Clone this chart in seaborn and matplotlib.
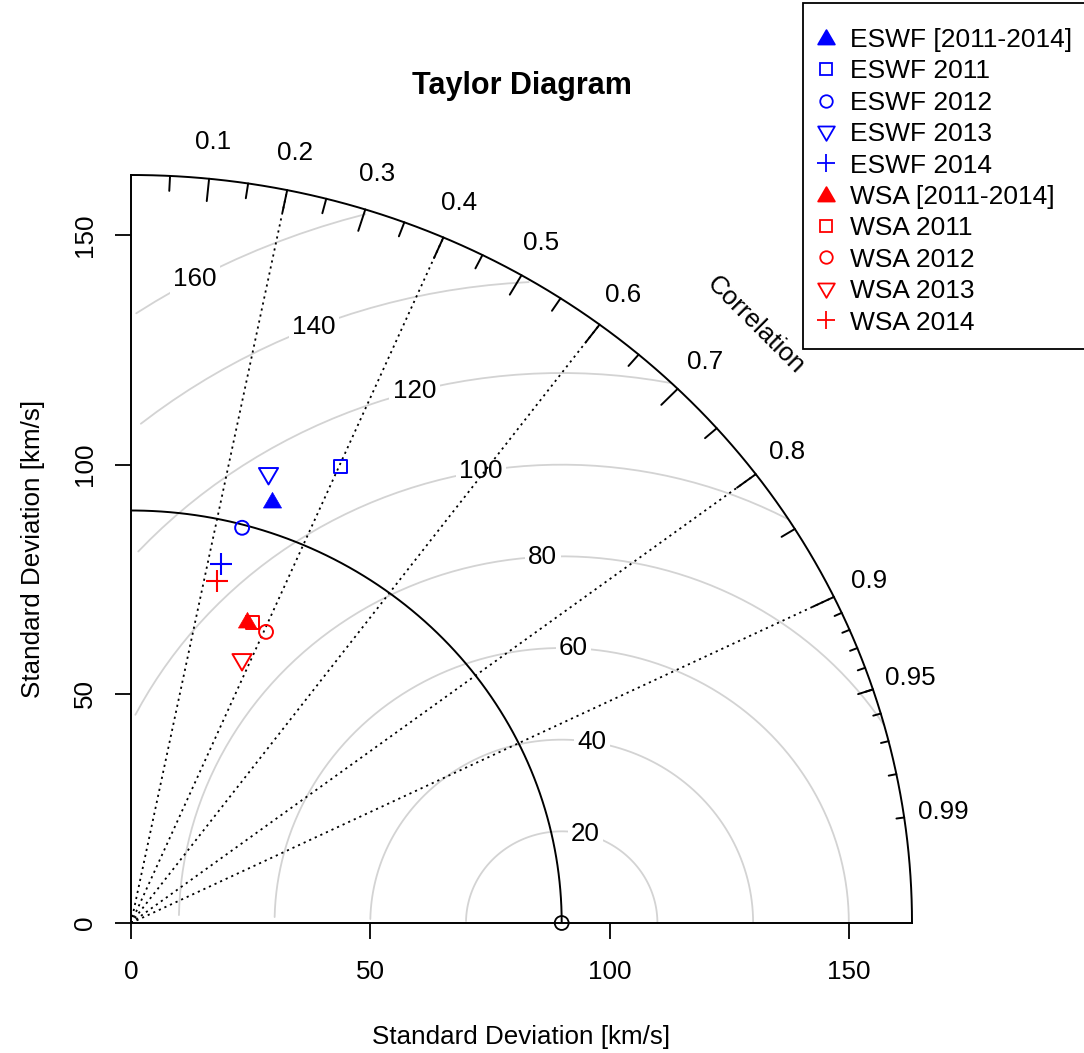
import numpy as np
import pandas as pd
import matplotlib
matplotlib.use("Agg")
import matplotlib.pyplot as plt
from matplotlib.lines import Line2D
from matplotlib.path import Path
from matplotlib.patches import Rectangle
import seaborn as sns

# ---- data ----
labels = ["ESWF [2011-2014]", "ESWF 2011", "ESWF 2012", "ESWF 2013", "ESWF 2014",
          "WSA [2011-2014]", "WSA 2011", "WSA 2012", "WSA 2013", "WSA 2014"]
sd_values = [96.6, 108.8, 89.3, 101.9, 80.6, 70.3, 70.3, 69.5, 61.7, 76.8]
corr_values = [0.304, 0.402, 0.260, 0.282, 0.234, 0.346, 0.361, 0.406, 0.376, 0.234]
ref_sd = 90.0
rms_levels = [20, 40, 60, 80, 100, 120, 140, 160]
corr_lines = [0.2, 0.4, 0.6, 0.8, 0.9]
corr_tick_labels = [0.1, 0.2, 0.3, 0.4, 0.5, 0.6, 0.7, 0.8, 0.9, 0.95, 0.99]
sd_ticks = [0, 50, 100, 150]

# ---- styles ----
tri_up = Path([(-1, -0.72), (1, -0.72), (0, 1.0), (-1, -0.72)], closed=True)
tri_dn = Path([(-1, 0.72), (1, 0.72), (0, -1.0), (-1, 0.72)], closed=True)
marker_map = {"all": tri_up, "2011": "s", "2012": "o", "2013": tri_dn, "2014": "+"}
size_map = {"all": 170, "2011": 90, "2012": 100, "2013": 190, "2014": 230}
leg_size_map = {"all": 12, "2011": 9, "2012": 9, "2013": 12, "2014": 13}

sns.set_theme(style="white")
plt.rcParams["font.family"] = ["Liberation Sans", "DejaVu Sans"]
plt.rcParams["text.color"] = "black"
plt.rcParams["axes.labelcolor"] = "black"
plt.rcParams["xtick.color"] = "black"
plt.rcParams["ytick.color"] = "black"

W, H = 1084, 1053
fig = plt.figure(figsize=(W / 100, H / 100), dpi=100)
ax = fig.add_axes([131 / W, 1 - 923 / H, (912 - 131) / W, (923 - 175) / H])

maxsd = 1.5 * max(max(sd_values), ref_sd)
ax.set_xlim(0, maxsd)
ax.set_ylim(0, maxsd)

FS = 18.7

# RMS contours
angles = np.arange(0, np.pi, 0.03)
npos = len(rms_levels)
labelpos = np.floor(np.linspace(45, 70, npos)).astype(int) - 1
for i, g in enumerate(rms_levels):
    xc = np.cos(angles) * g + ref_sd
    yc = np.sin(angles) * g
    mask = (xc >= 0) & (xc ** 2 + yc ** 2 <= maxsd ** 2)
    ax.plot(xc[mask], yc[mask], color="#d3d3d3", lw=1.3, zorder=1)
    lp = labelpos[i]
    if xc[lp] > 0:
        ax.text(xc[lp], yc[lp], str(g), fontsize=FS, ha="center", va="center",
                bbox=dict(facecolor="white", edgecolor="none", pad=2.5), zorder=2)

# correlation dotted lines
for c in corr_lines:
    a = np.arccos(c)
    ax.plot([0, np.cos(a) * maxsd], [0, np.sin(a) * maxsd], color="black",
            lw=1.3, ls=(0, (1.2, 2.2)), zorder=2)

# outer arc
th = np.linspace(0, np.pi / 2, 400)
ax.plot(np.cos(th) * maxsd, np.sin(th) * maxsd, color="black", lw=1.4, zorder=3, clip_on=False)

# ticks on outer arc
def arc_ticks(vals, frac):
    for v in vals:
        a = np.arccos(v)
        ax.plot([np.cos(a) * maxsd, np.cos(a) * frac * maxsd],
                [np.sin(a) * maxsd, np.sin(a) * frac * maxsd],
                color="black", lw=1.4, zorder=3, clip_on=False)

arc_ticks(np.arange(1, 10) / 10, 0.97)
arc_ticks(np.arange(0.05, 0.96, 0.1), 0.98)
arc_ticks(np.arange(91, 100) / 100, 0.99)

for v in corr_tick_labels:
    a = np.arccos(v)
    ax.text(np.cos(a) * 1.05 * maxsd, np.sin(a) * 1.05 * maxsd, f"{v:g}",
            fontsize=FS, ha="center", va="center", clip_on=False)
ax.text(0.8 * maxsd, 0.8 * maxsd, "Correlation", rotation=-45, fontsize=FS,
        ha="center", va="center", rotation_mode="anchor")

# reference arc
th2 = np.arange(0, np.pi / 2, 0.01)
ax.plot(np.cos(th2) * ref_sd, np.sin(th2) * ref_sd, color="black", lw=1.4, zorder=3)
ax.scatter([ref_sd], [0], s=100, facecolor="none", edgecolor="black", lw=1.3,
           zorder=5, clip_on=False)

# data points
df = pd.DataFrame({"label": labels, "sd": sd_values, "corr": corr_values})
df["x"] = df["sd"] * df["corr"]
df["y"] = df["sd"] * np.sqrt(1 - df["corr"] ** 2)
df["kind"] = df["label"].apply(lambda s: "all" if "[" in s else s.split()[-1])
df["color"] = df["label"].apply(lambda s: "blue" if s.startswith("ESWF") else "red")

handles = []
for _, r in df.iterrows():
    k = r["kind"]
    col = r["color"]
    if k == "all":
        kw = dict(facecolor=col, edgecolor=col, linewidth=0.5)
    elif k == "2014":
        kw = dict(color=col, linewidth=1.5)
    else:
        kw = dict(facecolor="none", edgecolor=col, linewidth=1.4)
    sns.scatterplot(x=[r["x"]], y=[r["y"]], marker=marker_map[k], s=size_map[k],
                    ax=ax, zorder=6, legend=False, **kw)
    filled = k == "all"
    handles.append(Line2D([], [], ls="none", marker=marker_map[k], ms=leg_size_map[k],
                          markerfacecolor=col if filled else "none",
                          markeredgecolor=col, mew=1.3, color=col, label=r["label"]))

# axes
for s in ["top", "right"]:
    ax.spines[s].set_visible(False)
for s in ["left", "bottom"]:
    ax.spines[s].set_color("black")
    ax.spines[s].set_linewidth(1.4)
ax.set_xticks(sd_ticks)
ax.set_yticks(sd_ticks)
ax.set_yticklabels([str(t) for t in sd_ticks], rotation=90, va="center")
ax.tick_params(axis="both", direction="out", length=11.5, width=1.3, colors="black",
               labelsize=FS, pad=15, bottom=True, left=True)
ax.tick_params(axis="y", pad=13)
ax.set_xlabel("Standard Deviation [km/s]", fontsize=FS, labelpad=30)
ax.set_ylabel("Standard Deviation [km/s]", fontsize=FS, labelpad=20)
ax.set_title("Taylor Diagram", fontsize=22, fontweight="bold", pad=58)
ax.grid(False)

# legend with a manually drawn frame
fig.patches.append(Rectangle((803 / W, 1 - 349 / H), (1100 - 803) / W, (349 - 3) / H,
                             transform=fig.transFigure, facecolor="white",
                             edgecolor="black", lw=1.3, zorder=0))
leg = fig.legend(handles=handles, loc="upper left", bbox_to_anchor=(813 / W, 1 - 28 / H),
                 borderaxespad=0, fontsize=19, frameon=False,
                 handlelength=1.0, handletextpad=0.4, borderpad=0.0, labelspacing=0.28)

fig.savefig("out.png", dpi=100)
